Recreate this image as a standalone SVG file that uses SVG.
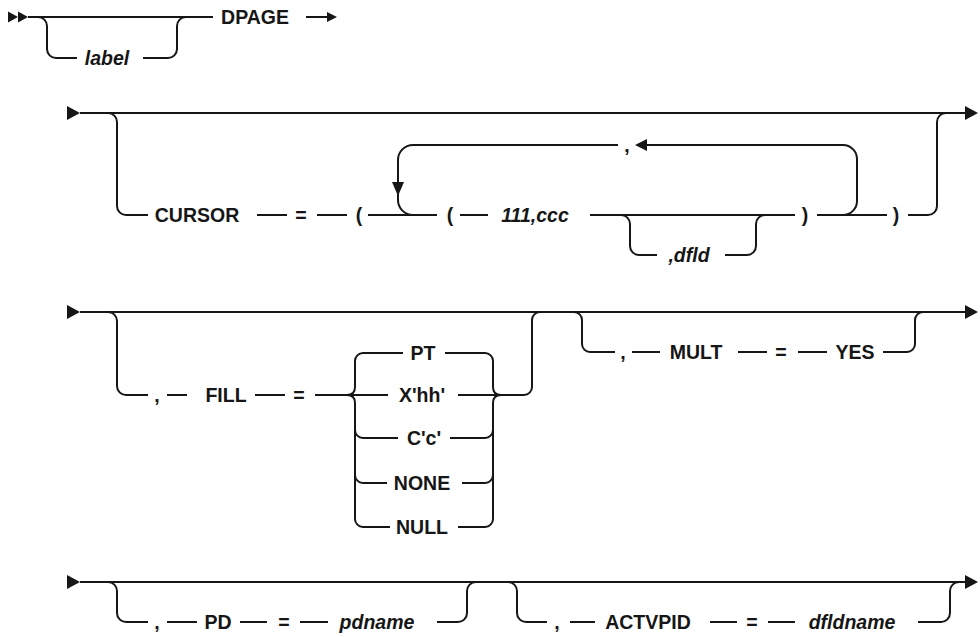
<svg xmlns="http://www.w3.org/2000/svg" width="980" height="637" viewBox="0 0 980 637">
<style>
  .ln{fill:none;stroke:#161616;stroke-width:2;stroke-linecap:butt}
  .ah{fill:#161616;stroke:none}
  text{font-family:"Liberation Sans",Arial,sans-serif;font-size:19.5px;font-weight:bold;fill:#161616;text-anchor:middle}
  .it{font-style:italic}
</style>
<rect width="980" height="637" fill="#ffffff"/>
<g id="connectors">
  <!-- row 1 -->
  <polygon class="ah" points="8,11.5 8,22.5 18,17"/>
  <polygon class="ah" points="18,11.5 18,22.5 28,17"/>
  <path class="ln" d="M28 17 H213"/>
  <path class="ln" d="M38 17 A9 9 0 0 1 47 26 V49 A9 9 0 0 0 56 58 H77"/>
  <path class="ln" d="M143 58 H168 A9 9 0 0 0 177 49 V26 A9 9 0 0 1 186 17"/>
  <path class="ln" d="M306 17 H328"/>
  <polygon class="ah" points="327,12 327,22 337,17"/>
  <!-- row 2 -->
  <polygon class="ah" points="67,106 67,120 80,113"/>
  <path class="ln" d="M80 113 H966"/>
  <polygon class="ah" points="965,106 965,120 978,113"/>
  <path class="ln" d="M108 113 A9 9 0 0 1 117 122 V206 A9 9 0 0 0 126 215 H148"/>
  <path class="ln" d="M257 215 H287 M317 215 H347 M368 215 H437"/>
  <path class="ln" d="M618 145 H413 A15 15 0 0 0 398 160 V200 A15 15 0 0 0 413 215"/>
  <polygon class="ah" points="392,182 404,182 398,196"/>
  <path class="ln" d="M646 145 H843 A14 14 0 0 1 857 159 V201 A14 14 0 0 1 843 215"/>
  <polygon class="ah" points="647,139 647,151 635,145"/>
  <path class="ln" d="M460 215 H488 M590 215 H795"/>
  <path class="ln" d="M621 215 A9 9 0 0 1 630 224 V246 A9 9 0 0 0 639 255 H657"/>
  <path class="ln" d="M725 255 H747 A9 9 0 0 0 756 246 V224 A9 9 0 0 1 765 215"/>
  <path class="ln" d="M817 215 H887"/>
  <path class="ln" d="M908 215 H928 A9 9 0 0 0 937 206 V122 A9 9 0 0 1 946 113"/>
  <!-- row 3 -->
  <polygon class="ah" points="67,305 67,319 80,312"/>
  <path class="ln" d="M80 312 H966"/>
  <polygon class="ah" points="965,305 965,319 978,312"/>
  <path class="ln" d="M108 312 A9 9 0 0 1 117 321 V386 A9 9 0 0 0 126 395 H148"/>
  <path class="ln" d="M167 395 H187 M255 395 H285 M315 395 H388"/>
  <path class="ln" d="M347 395 Q355 395 355 387 V361 A8 8 0 0 1 363 353 H403"/>
  <path class="ln" d="M347 395 Q355 395 355 403 V519 A8 8 0 0 0 363 527 H390"/>
  <path class="ln" d="M355 430 A8 8 0 0 0 363 438 H398"/>
  <path class="ln" d="M355 475 A8 8 0 0 0 363 483 H387"/>
  <path class="ln" d="M445 353 H485 A8 8 0 0 1 493 361 V387 Q493 395 501 395"/>
  <path class="ln" d="M458 527 H485 A8 8 0 0 0 493 519 V403 Q493 395 501 395"/>
  <path class="ln" d="M450 438 H485 A8 8 0 0 0 493 430"/>
  <path class="ln" d="M462 483 H485 A8 8 0 0 0 493 475"/>
  <path class="ln" d="M458 395 H524 A8 8 0 0 0 532 387 V320 A8 8 0 0 1 540 312"/>
  <path class="ln" d="M574 312 A8 8 0 0 1 582 320 V344 A8 8 0 0 0 590 352 H615"/>
  <path class="ln" d="M632 352 H660 M738 352 H767 M798 352 H827"/>
  <path class="ln" d="M883 352 H907 A8 8 0 0 0 915 344 V320 A8 8 0 0 1 923 312"/>
  <!-- row 4 -->
  <polygon class="ah" points="67,575 67,589 80,582"/>
  <path class="ln" d="M80 582 H966"/>
  <polygon class="ah" points="965,575 965,589 978,582"/>
  <path class="ln" d="M108 582 A9 9 0 0 1 117 591 V613 A9 9 0 0 0 126 622 H148"/>
  <path class="ln" d="M167 622 H197 M240 622 H267 M300 622 H328"/>
  <path class="ln" d="M437 622 H458 A9 9 0 0 0 467 613 V591 A9 9 0 0 1 476 582"/>
  <path class="ln" d="M508 582 A9 9 0 0 1 517 591 V613 A9 9 0 0 0 526 622 H547"/>
  <path class="ln" d="M570 622 H595 M710 622 H737 M768 622 H795"/>
  <path class="ln" d="M918 622 H941 A9 9 0 0 0 950 613 V591 A9 9 0 0 1 959 582"/>
</g>
<g id="n-label"><text class="it" x="107" y="65">label</text></g>
<g id="n-dpage"><text x="255" y="24">DPAGE</text></g>
<g id="n-cursor"><text x="197" y="222">CURSOR</text></g>
<g id="n-cursor-eq"><text x="301" y="222">=</text></g>
<g id="n-cursor-lp1"><text x="359" y="222">(</text></g>
<g id="n-cursor-sep"><text x="627" y="152">,</text></g>
<g id="n-cursor-lp2"><text x="450" y="222">(</text></g>
<g id="n-111ccc"><text class="it" x="535" y="222">111,ccc</text></g>
<g id="n-dfld"><text class="it" x="689" y="262">,dfld</text></g>
<g id="n-cursor-rp1"><text x="805" y="222">)</text></g>
<g id="n-cursor-rp2"><text x="896" y="222">)</text></g>
<g id="n-fill-comma"><text x="157" y="402">,</text></g>
<g id="n-fill"><text x="226" y="402">FILL</text></g>
<g id="n-fill-eq"><text x="299" y="402">=</text></g>
<g id="n-pt"><text x="423" y="360">PT</text></g>
<g id="n-xhh"><text x="422" y="402">X'hh'</text></g>
<g id="n-cc"><text x="424" y="445">C'c'</text></g>
<g id="n-none"><text x="422" y="490">NONE</text></g>
<g id="n-null"><text x="422" y="534">NULL</text></g>
<g id="n-mult-comma"><text x="623" y="359">,</text></g>
<g id="n-mult"><text x="696" y="359">MULT</text></g>
<g id="n-mult-eq"><text x="781" y="359">=</text></g>
<g id="n-yes"><text x="855" y="359">YES</text></g>
<g id="n-pd-comma"><text x="157" y="629">,</text></g>
<g id="n-pd"><text x="218" y="629">PD</text></g>
<g id="n-pd-eq"><text x="284" y="629">=</text></g>
<g id="n-pdname"><text class="it" x="377" y="629">pdname</text></g>
<g id="n-act-comma"><text x="557" y="629">,</text></g>
<g id="n-actvpid"><text x="648" y="629">ACTVPID</text></g>
<g id="n-act-eq"><text x="752" y="629">=</text></g>
<g id="n-dfldname"><text class="it" x="852" y="629">dfldname</text></g>
</svg>
